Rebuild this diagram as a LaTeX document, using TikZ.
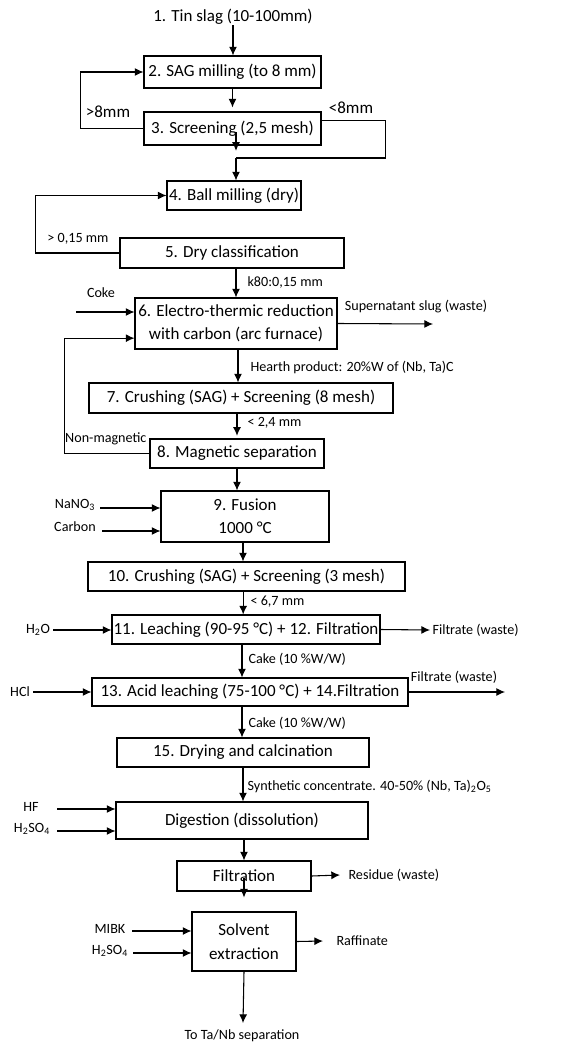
\documentclass[tikz,border=0pt]{standalone}
\usepackage{fontspec}
\setmainfont{Carlito}
\usetikzlibrary{arrows.meta}

\begin{document}
\begin{tikzpicture}[x=0.75pt, y=-0.75pt, line width=0.8pt,
		>={Latex[length=6.5pt,width=6pt]},
		box/.style={draw, inner sep=0pt, align=center, font=\fontsize{12.75}{17.5}\selectfont},
		big/.style={inner sep=0pt, font=\fontsize{12.75}{17.5}\selectfont},
		lbl/.style={inner sep=0pt, font=\fontsize{10.6}{12}\selectfont}]
			\useasboundingbox (0,0) rectangle (568,1044);
			\node[big] (src) at (233,17) {1. Tin slag (10-100mm)};
			\node[box, minimum width=132.75pt, minimum height=24pt] (b2) at (232.5,72) {2. SAG milling (to 8 mm)};
			\node[box, minimum width=132.75pt, minimum height=24.75pt] (b3) at (232.5,128.5) {3. Screening (2,5 mesh)};
			\node[box, minimum width=100.5pt, minimum height=21.75pt] (b4) at (234,195.5) {4. Ball milling (dry)};
			\node[box, minimum width=168pt, minimum height=22.5pt] (b5) at (232,253) {5. Dry classification};
			\node[box, minimum width=151.5pt, minimum height=38.25pt] (b6) at (236,323.5) {6. Electro-thermic reduction\\with carbon (arc furnace)};
			\node[box, minimum width=228pt, minimum height=22.5pt] (b7) at (241,398) {7. Crushing (SAG) + Screening (8 mesh)};
			\node[box, minimum width=130.5pt, minimum height=21.75pt] (b8) at (237,453.5) {8. Magnetic separation};
			\node[box, minimum width=126pt, minimum height=38.25pt] (b9) at (245,516.5) {9. Fusion\\1000 °C};
			\node[box, minimum width=237.75pt, minimum height=21.75pt] (b10) at (246.5,576.5) {10. Crushing (SAG) + Screening (3 mesh)};
			\node[box, minimum width=201pt, minimum height=21.75pt] (b11) at (246,629.5) {11. Leaching (90-95 °C) + 12. Filtration};
			\node[box, minimum width=237pt, minimum height=21pt] (b13) at (250,692) {13. Acid leaching (75-100 °C) + 14.Filtration};
			\node[box, minimum width=189pt, minimum height=21.75pt] (b15) at (243,752.5) {15. Drying and calcination};
			\node[box, minimum width=189pt, minimum height=27.75pt] (dig) at (242,820.5) {Digestion (dissolution)};
			\node[box, minimum width=100.5pt, minimum height=22.5pt] (filt) at (244,876) {Filtration};
			\node[box, minimum width=78pt, minimum height=44.25pt] (solv) at (244,941.5) {Solvent\\extraction};
			\coordinate (j3) at (236,158);
			\coordinate (cokein) at (76,312);
			\coordinate (slagout) at (433,324);
			\coordinate (nanoin) at (100,508);
			\coordinate (carbin) at (102,531);
			\coordinate (h2oin) at (53,630);
			\coordinate (filtaout) at (430,630);
			\coordinate (hclin) at (33,692);
			\coordinate (filtbout) at (505,692);
			\coordinate (hfin) at (57,809);
			\coordinate (acidin) at (57,831);
			\coordinate (resout) at (340,875);
			\coordinate (mibkin) at (132,931);
			\coordinate (acidbin) at (133,953);
			\coordinate (raffout) at (323,941);
			\coordinate (sepout) at (243,1023);
			\node[big] (coarse) at (108,112) {>8mm};
			\node[big] (fine) at (351,108) {<8mm};
			\node[lbl] (oversize) at (78,239) {> 0,15 mm};
			\node[lbl, anchor=west] (k80) at (247,282) {k80:0,15 mm};
			\node[lbl] (coke) at (101,293) {Coke};
			\node[lbl] (slag) at (416,307) {Supernatant slug (waste)};
			\node[lbl, anchor=west] (hearth) at (250,367) {Hearth product: 20\%W of (Nb, Ta)C};
			\node[lbl, anchor=west] (size7) at (247,423) {< 2,4 mm};
			\node[lbl, anchor=east] (nonmag) at (147,439) {Non-magnetic};
			\node[lbl] (nano) at (75,505) {NaNO\textsubscript{3}};
			\node[lbl] (carb) at (75,527) {Carbon};
			\node[lbl, anchor=west] (size10) at (250,602) {< 6,7 mm};
			\node[lbl] (water) at (38,630) {H\textsubscript{2}O};
			\node[lbl, anchor=west] (filta) at (432,630) {Filtrate (waste)};
			\node[lbl, anchor=west] (cakea) at (248,659) {Cake (10 \%W/W)};
			\node[lbl] (hcl) at (20,692) {HCl};
			\node[lbl] (filtb) at (454,677) {Filtrate (waste)};
			\node[lbl, anchor=west] (cakeb) at (248,723) {Cake (10 \%W/W)};
			\node[lbl, anchor=west] (synth) at (247,786) {Synthetic concentrate. 40-50\% (Nb, Ta)\textsubscript{2}O\textsubscript{5}};
			\node[lbl] (hf) at (31,807) {HF};
			\node[lbl] (acid) at (32,829) {H\textsubscript{2}SO\textsubscript{4}};
			\node[lbl, anchor=west] (res) at (348,875) {Residue (waste)};
			\node[lbl] (mibk) at (110,929) {MIBK};
			\node[lbl] (acidb) at (110,951) {H\textsubscript{2}SO\textsubscript{4}};
			\node[lbl, anchor=west] (raff) at (336,941) {Raffinate};
			\node[lbl] (sep) at (242,1036) {To Ta/Nb separation};
			\draw[->] (src) -- (src |- b2.north);
			\draw[->] (b2) -- ([yshift=3pt]b2.south |- b3.north);
			\draw[->] (b3.west) -- ++(-63,0) |- (b2.west);
			\draw ([yshift=6pt]b3.east) -- ++(64,0) |- (j3);
			\draw[->] ([yshift=10pt]b3.south -| j3) -- ([yshift=-4pt]b3.south -| j3);
			\draw[->] (j3) -- (j3 |- b4.north);
			\draw[->] (b5.west) -- ++(-84,0) |- (b4.west);
			\draw[->] (b6.north |- b5.south) -- (b6.north);
			\draw[->] (cokein) -- (cokein -| b6.west);
			\draw[->] (b6.east) -- (slagout);
			\draw[->] ([xshift=1.5pt]b6.south) -- ([xshift=1.5pt]b6.south |- b7.north);
			\draw[->] (b8.north |- b7.south) -- ([yshift=2pt]b8.north);
			\draw[->] (b8.west) -- ++(-85,0) |- ([yshift=-11pt]b6.west);
			\draw[->] (b8.south) -- (b8.south |- b9.north);
			\draw[->] (nanoin) -- (nanoin -| b9.west);
			\draw[->] (carbin) -- (carbin -| b9.west);
			\draw[->] ([xshift=-1.5pt]b9.south) -- ([xshift=-1.5pt]b9.south |- b10.north);
			\draw[->] ([xshift=-2.5pt]b10.south) -- ([xshift=-2.5pt]b10.south |- b11.north);
			\draw[->] (h2oin) -- (h2oin -| b11.west);
			\draw[->] (b11.east) -- (filtaout);
			\draw[->] ([xshift=-3pt]b11.south) -- ([xshift=-3pt]b11.south |- b13.north);
			\draw[->] (hclin) -- (hclin -| b13.west);
			\draw[->] (b13.east) -- (filtbout);
			\draw[->] ([xshift=-6pt]b13.south) -- ([xshift=-6pt]b13.south |- b15.north);
			\draw[->] (b15.south) -- (b15.south |- dig.north);
			\draw[->] (hfin) -- (hfin -| dig.west);
			\draw[->] (acidin) -- (acidin -| dig.west);
			\draw[->] (filt.north |- dig.south) -- (filt.north);
			\draw[->] (filt.east) -- (resout);
			\draw[->] ([yshift=10pt]filt.south) -- ([yshift=-4.5pt]filt.south);
			\draw[->] (mibkin) -- (mibkin -| solv.west);
			\draw[->] (acidbin) -- (acidbin -| solv.west);
			\draw[->] (solv.east) -- (raffout);
			\draw[->] (solv.south) -- (sepout);
		\end{tikzpicture}
\end{document}
